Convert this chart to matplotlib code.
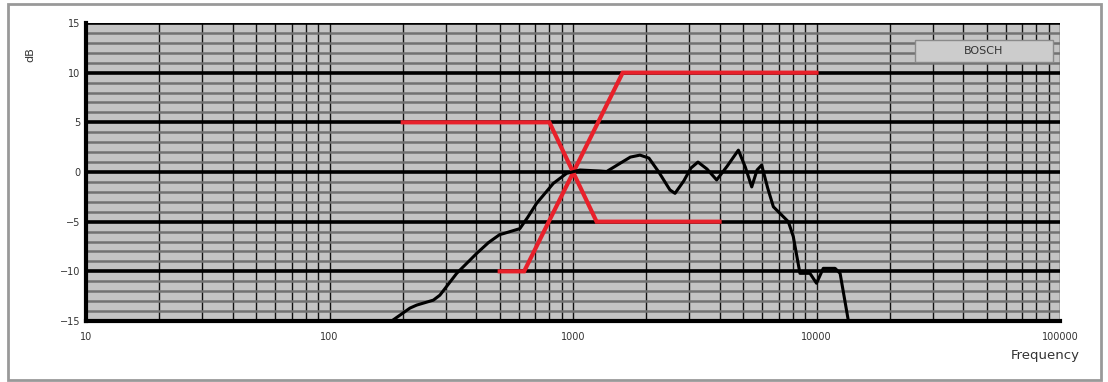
import matplotlib
matplotlib.use("Agg")
import matplotlib.pyplot as plt
from matplotlib.ticker import FixedLocator, LogLocator, NullFormatter, FuncFormatter
from matplotlib.patches import Rectangle

# measured response (Hz, dB)
freq = [180, 214, 228, 267, 284, 333, 402, 450, 500, 518, 605, 650, 709, 830, 942, 1069,
        1291, 1375, 1560, 1720, 1884, 2050, 2250, 2500, 2624, 2850, 3050, 3260, 3550, 3890,
        4300, 4777, 5100, 5420, 5700, 5955, 6300,
        6650, 7660, 8030, 8550, 9400, 10000, 10660, 11920, 12500, 13520]
level = [-15.0, -13.7, -13.4, -12.9, -12.4, -10.2, -8.2, -7.1, -6.3, -6.2, -5.7, -4.6, -3.15, -1.15, -0.13, 0.2,
         0.1, 0.05, 0.87, 1.5, 1.7, 1.4, 0.0, -1.8, -2.15, -0.9, 0.4, 1.0, 0.3, -0.8,
         0.6, 2.2, 0.5, -1.5, 0.2, 0.7, -1.6,
         -3.5, -5.0, -6.5, -10.2, -10.2, -11.2, -9.7, -9.7, -10.2, -15.0]

# red target lines
low_f = [200, 800, 1250, 4000]
low_db = [5, 5, -5, -5]
high_f = [500, 630, 1600, 10000]
high_db = [-10, -10, 10, 10]

fig = plt.figure(figsize=(11.08, 3.82), dpi=100)
ax = fig.add_axes([86/1108, 1-321/382, (1060-86)/1108, (321-23)/382])
ax.set_facecolor('#c4c4c4')

ax.set_xscale('log')
ax.set_xlim(10, 100000)
ax.set_ylim(-15, 15)

ax.set_xticks([10, 100, 1000, 10000, 100000])
ax.xaxis.set_major_formatter(FuncFormatter(lambda v, p: '%d' % v))
ax.xaxis.set_minor_locator(LogLocator(base=10, subs=range(2, 10)))
ax.xaxis.set_minor_formatter(NullFormatter())
ax.set_yticks([-15, -10, -5, 0, 5, 10, 15])
ax.yaxis.set_minor_locator(FixedLocator([v for v in range(-15, 16) if v % 5]))

ax.grid(True, which='minor', axis='y', color='#727272', lw=1.8)
ax.grid(True, which='major', axis='y', color='black', lw=2.6)
ax.grid(True, which='both', axis='x', color='#111111', lw=1.0)
ax.set_axisbelow(True)

for s in ['top', 'right']:
    ax.spines[s].set_visible(False)
ax.spines['left'].set_linewidth(3)
ax.spines['bottom'].set_linewidth(3)
ax.tick_params(which='both', length=0, labelsize=7, colors='#333333', pad=8)
ax.tick_params(axis='y', pad=4)

ax.plot(low_f, low_db, color='#e8202a', lw=3, solid_joinstyle='miter')
ax.plot(high_f, high_db, color='#e8202a', lw=3, solid_joinstyle='miter')
ax.plot(freq, level, color='black', lw=2.2)

# legend box
ax.add_patch(Rectangle((0.851, 0.869), 0.142, 0.074, transform=ax.transAxes,
                       fc='#cccccc', ec='#8a8a8a', lw=1, zorder=5))
ax.text(0.922, 0.906, 'BOSCH', transform=ax.transAxes, ha='center', va='center',
        fontsize=8, color='#333333', zorder=6)

fig.text(30/1108, 1-55/382, 'dB', rotation=90, ha='center', va='center',
         fontsize=8, color='#333333')
fig.text(1080/1108, 1-355/382, 'Frequency', ha='right', va='center',
         fontsize=9.5, color='#333333')

fig.patches.append(Rectangle((8/1108, 2/382), 1093/1108, 376/382,
                             transform=fig.transFigure, fill=False,
                             ec='#999999', lw=2))

fig.savefig('out.png', dpi=100, facecolor='white')
